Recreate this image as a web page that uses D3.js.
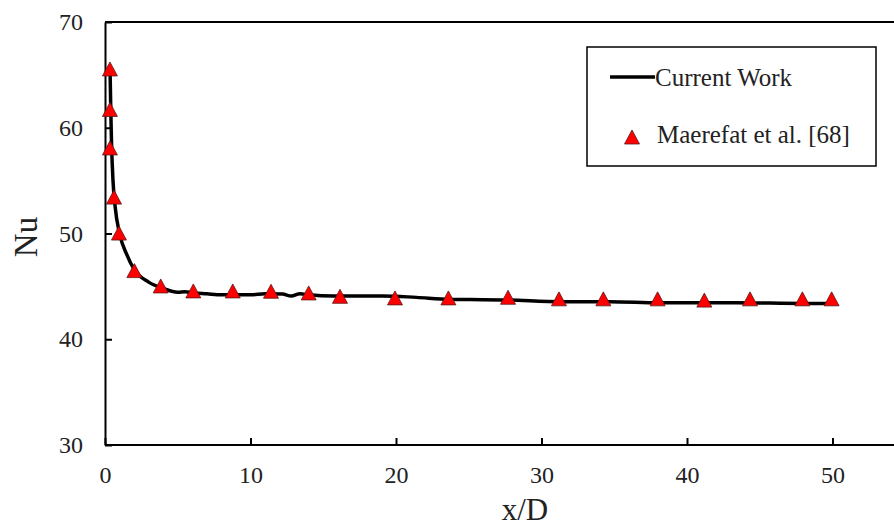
<!DOCTYPE html>
<html>
<head>
<meta charset="utf-8">
<script src="https://cdn.jsdelivr.net/npm/d3@7"></script>
<style>
  body { margin: 0; background: #fff; }
  svg { display: block; font-family: "Liberation Serif", "Times New Roman", serif; }
</style>
</head>
<body>
<script>
// Current Work (line)
const workX  = [0.35, 0.4, 0.45, 0.55, 0.7, 1.0, 1.5, 2.0, 3.0, 4.0, 5.0, 5.5, 6.0, 7.0, 8.0, 9.0, 10.0, 11.0, 12.2, 12.8, 13.4, 14.0, 15.7, 19.1, 21.4, 23.7, 25.1, 27.8, 31.3, 34.7, 38.1, 43.4, 48.0, 50.3];
const workNu = [65.3, 61.5, 58.5, 55.0, 52.5, 50.0, 48.0, 46.6, 45.4, 44.8, 44.45, 44.5, 44.4, 44.3, 44.2, 44.2, 44.2, 44.3, 44.27, 44.08, 44.3, 44.2, 44.08, 44.1, 43.96, 43.77, 43.77, 43.7, 43.55, 43.55, 43.45, 43.45, 43.39, 43.39];

// Maerefat et al. [68] (triangles)
const refX  = [0.34, 0.34, 0.34, 0.62, 0.96, 2.02, 3.83, 6.07, 8.78, 11.41, 14.0, 16.15, 19.93, 23.6, 27.7, 31.2, 34.25, 37.98, 41.19, 44.33, 47.93, 49.94];
const refNu = [65.56, 61.73, 58.09, 53.44, 50.04, 46.49, 45.04, 44.57, 44.57, 44.54, 44.38, 44.06, 43.91, 43.91, 43.97, 43.82, 43.82, 43.82, 43.7, 43.82, 43.82, 43.82];

const xTicks = [0, 10, 20, 30, 40, 50];
const yTicks = [30, 40, 50, 60, 70];
const legendLabels = ["Current Work", "Maerefat et al. [68]"];

const W = 894, H = 527;
const plotLeft = 105, plotTop = 22, plotBottom = 445;

const svg = d3.select("body").append("svg").attr("width", W).attr("height", H);

const x = d3.scaleLinear().domain([0, 60]).range([plotLeft, plotLeft + 6 * 145.5]);
const y = d3.scaleLinear().domain([30, 70]).range([plotBottom, plotTop]);

// top border of plot area
svg.append("line")
  .attr("x1", plotLeft).attr("x2", W)
  .attr("y1", plotTop).attr("y2", plotTop)
  .attr("stroke", "#000").attr("stroke-width", 2);

const xAxis = svg.append("g")
  .attr("transform", `translate(0,${plotBottom})`)
  .call(d3.axisBottom(x).tickValues(xTicks).tickSizeInner(-7).tickSizeOuter(0).tickPadding(21));
xAxis.select(".domain").attr("d", `M${plotLeft},0H${W}`);

const yAxis = svg.append("g")
  .attr("transform", `translate(${plotLeft},0)`)
  .call(d3.axisLeft(y).tickValues(yTicks).tickSizeInner(-7).tickSizeOuter(0).tickPadding(22));

svg.selectAll(".tick line").attr("stroke", "#000").attr("stroke-width", 2);
svg.selectAll(".domain").attr("stroke", "#000").attr("stroke-width", 2);
svg.selectAll(".tick text")
  .attr("font-family", "Liberation Serif, serif")
  .attr("font-size", 24)
  .attr("fill", "#222");

// axis titles
svg.append("text")
  .attr("x", 525).attr("y", 520)
  .attr("text-anchor", "middle")
  .attr("font-size", 31).attr("fill", "#222")
  .text("x/D");

svg.append("text")
  .attr("transform", "translate(37,237) rotate(-90)")
  .attr("text-anchor", "middle")
  .attr("font-size", 33).attr("fill", "#222")
  .text("Nu");

// line
const workData = workX.map((d, i) => [d, workNu[i]]);
const line = d3.line()
  .x(d => x(d[0]))
  .y(d => y(d[1]))
  .curve(d3.curveMonotoneX);

svg.append("path")
  .datum(workData)
  .attr("d", line)
  .attr("fill", "none")
  .attr("stroke", "#000")
  .attr("stroke-width", 3.5)
  .attr("stroke-linejoin", "round");

// triangles
const tri = "M0,-7L7.5,7L-7.5,7Z";
const refData = refX.map((d, i) => [d, refNu[i]]);
svg.selectAll("path.ref")
  .data(refData)
  .enter().append("path")
  .attr("class", "ref")
  .attr("d", tri)
  .attr("transform", d => `translate(${x(d[0])},${y(d[1])})`)
  .attr("fill", "#ff0000")
  .attr("stroke", "#5a1a1a")
  .attr("stroke-width", 0.8);

// legend
const lg = svg.append("g");
lg.append("rect")
  .attr("x", 587).attr("y", 47)
  .attr("width", 289).attr("height", 119)
  .attr("fill", "#fff")
  .attr("stroke", "#000").attr("stroke-width", 1.5);
lg.append("line")
  .attr("x1", 610).attr("x2", 655)
  .attr("y1", 77).attr("y2", 77)
  .attr("stroke", "#000").attr("stroke-width", 3.5);
lg.append("text")
  .attr("x", 655).attr("y", 86)
  .attr("font-size", 25).attr("fill", "#222")
  .text(legendLabels[0]);
lg.append("path")
  .attr("d", tri)
  .attr("transform", "translate(632,137)")
  .attr("fill", "#ff0000")
  .attr("stroke", "#5a1a1a")
  .attr("stroke-width", 0.8);
lg.append("text")
  .attr("x", 657).attr("y", 143)
  .attr("font-size", 25).attr("fill", "#222")
  .text(legendLabels[1]);
</script>
</body>
</html>
